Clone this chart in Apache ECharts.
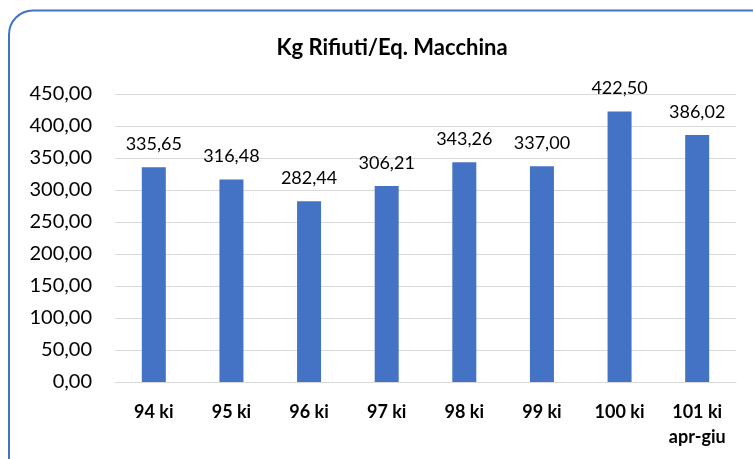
<!DOCTYPE html>
<html>
<head>
<meta charset="utf-8">
<script src="https://cdn.jsdelivr.net/npm/echarts@6/dist/echarts.min.js"></script>
<style>
  html, body { margin: 0; padding: 0; background: #fff; overflow: hidden; }
  #chart { width: 753px; height: 459px; }
</style>
</head>
<body>
<div id="chart"></div>
<script>
const categories = ['94 ki', '95 ki', '96 ki', '97 ki', '98 ki', '99 ki', '100 ki', '101 ki\napr-giu']
const values = [335.65, 316.48, 282.44, 306.21, 343.26, 337.00, 422.50, 386.02]

const fmt = v => v.toFixed(2).replace('.', ',')
const font = 'Lato, "Open Sans", sans-serif'

const chart = echarts.init(document.getElementById('chart'))

chart.setOption({
  backgroundColor: '#fff',
  animation: false,
  title: {
    text: 'Kg Rifiuti/Eq. Macchina',
    left: 387,
    top: 32,
    textAlign: 'center',
    textStyle: { fontFamily: font, fontSize: 22, fontWeight: 'bold', color: '#000' }
  },
  graphic: [{
    type: 'rect',
    shape: { x: 9, y: 10.5, width: 770, height: 470, r: 24 },
    style: { fill: 'none', stroke: '#4472C4', lineWidth: 2 },
    silent: true
  }],
  grid: { left: 115, right: 17, top: 94, bottom: 77 },
  xAxis: {
    type: 'category',
    data: categories,
    axisTick: { show: false },
    axisLine: { lineStyle: { color: '#d9d9d9', width: 1 } },
    axisLabel: {
      color: '#000',
      fontFamily: font,
      fontSize: 18,
      fontWeight: 'bold',
      margin: 18,
      lineHeight: 25,
      interval: 0
    }
  },
  yAxis: {
    type: 'value',
    min: 0,
    max: 450,
    interval: 50,
    axisLine: { show: false },
    axisTick: { show: false },
    splitLine: { lineStyle: { color: '#d9d9d9', width: 1 } },
    axisLabel: {
      color: '#000',
      fontFamily: font,
      fontSize: 20,
      margin: 23,
      formatter: v => fmt(v)
    }
  },
  series: [{
    type: 'bar',
    data: values,
    barWidth: 24,
    itemStyle: { color: '#4472C4' },
    label: {
      show: true,
      position: 'top',
      distance: 14,
      color: '#000',
      fontFamily: font,
      fontSize: 18,
      formatter: p => fmt(p.value)
    }
  }]
})
</script>
</body>
</html>
